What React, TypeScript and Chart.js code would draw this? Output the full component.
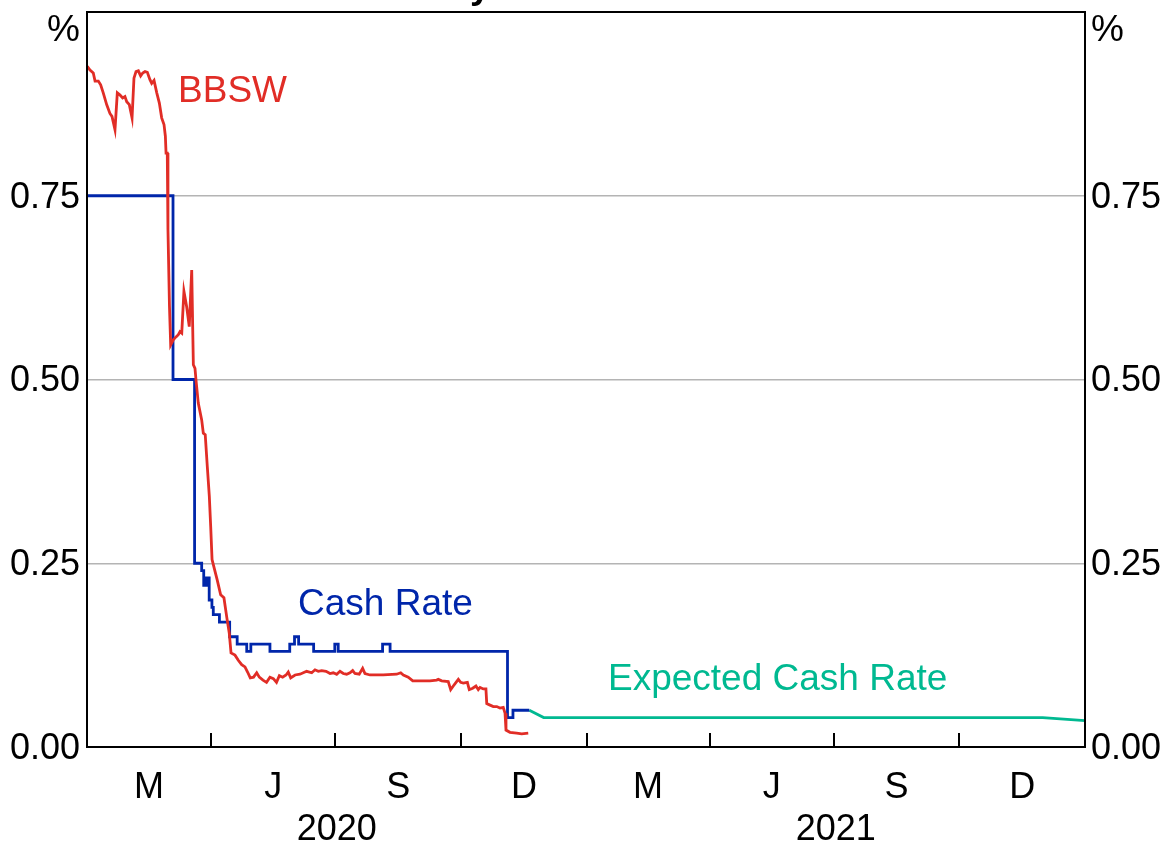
import React, { useEffect, useRef } from 'react';
import { Chart, registerables } from 'chart.js';

Chart.register(...registerables);

// x values are days since 1 January 2020
const bbswDays = [
  0.2, 2.2, 4.6, 5.9, 8.3, 10.0, 11.9, 14.4, 16.8, 18.3,
  20.5, 22.2, 24.2, 26.1, 27.8, 29.1, 31.0, 33.0, 34.4, 35.9,
  37.6, 39.3, 40.8, 42.5, 44.2, 46.1, 47.4, 49.1, 51.1, 53.0,
  54.7, 56.4, 57.4, 57.9, 58.8, 59.3, 60.4, 61.3, 63.2, 65.2,
  66.9, 68.1, 69.4, 71.0, 73.0, 74.9, 76.7, 77.9, 79.1, 79.8,
  81.5, 84.0, 85.2, 86.6, 88.1, 89.6, 90.6, 91.6, 93.5, 95.4,
  97.9, 100.3, 102.5, 104.2, 105.5, 108.4, 110.8, 113.3, 115.7, 117.6,
  119.6, 122.0, 124.3, 126.2, 128.9, 131.5, 134.0, 136.5, 138.8, 140.9,
  143.3, 145.8, 147.4, 149.2, 152.4, 156.0, 160.9, 164.6, 167.0, 169.4,
  171.9, 175.1, 178.0, 180.4, 182.9, 185.3, 187.7, 190.2, 192.6, 194.6,
  196.3, 199.4, 201.9, 203.6, 207.3, 217.0, 226.8, 229.8, 231.7, 235.3,
  238.6, 242.7, 247.6, 251.2, 256.1, 257.3, 259.8, 264.6, 266.4, 268.3,
  270.3, 272.0, 273.7, 275.6, 278.6, 280.0, 282.5, 284.9, 286.6, 287.9,
  290.3, 292.2, 292.8, 295.2, 297.6, 300.1, 302.5, 304.9, 306.2, 306.9,
  309.8, 314.7, 318.4, 323.2,
];
const bbswValues = [
  0.926, 0.921, 0.917, 0.906, 0.906, 0.901, 0.890, 0.874, 0.862, 0.858,
  0.840, 0.890, 0.887, 0.883, 0.885, 0.878, 0.874, 0.856, 0.910, 0.919,
  0.920, 0.913, 0.917, 0.919, 0.918, 0.908, 0.903, 0.907, 0.890, 0.876,
  0.856, 0.847, 0.831, 0.808, 0.808, 0.704, 0.600, 0.547, 0.554, 0.558,
  0.561, 0.565, 0.563, 0.620, 0.599, 0.572, 0.649, 0.520, 0.515, 0.500,
  0.468, 0.445, 0.427, 0.425, 0.382, 0.341, 0.300, 0.255, 0.241, 0.227,
  0.207, 0.203, 0.175, 0.155, 0.128, 0.125, 0.118, 0.112, 0.109, 0.102,
  0.094, 0.095, 0.101, 0.095, 0.091, 0.088, 0.095, 0.093, 0.088, 0.097,
  0.095, 0.098, 0.102, 0.094, 0.098, 0.099, 0.103, 0.101, 0.105, 0.103,
  0.104, 0.103, 0.100, 0.101, 0.099, 0.103, 0.100, 0.099, 0.101, 0.104,
  0.100, 0.099, 0.107, 0.100, 0.098, 0.098, 0.099, 0.101, 0.098, 0.095,
  0.090, 0.090, 0.090, 0.090, 0.091, 0.092, 0.090, 0.089, 0.078, 0.083,
  0.088, 0.092, 0.088, 0.087, 0.088, 0.078, 0.080, 0.083, 0.078, 0.081,
  0.079, 0.079, 0.059, 0.057, 0.055, 0.055, 0.053, 0.054, 0.046, 0.023,
  0.020, 0.019, 0.018, 0.019,
];

const cashDays = [
  0, 63, 78.8, 84, 85.5, 87.5, 89.5, 91.5, 92.5, 97,
  104.5, 110, 117, 120, 134, 148.5, 152, 155, 166, 181.5,
  184, 216.5, 222, 308, 312, 324,
];
const cashValues = [
  0.75, 0.50, 0.25, 0.24, 0.22, 0.23, 0.20, 0.19, 0.18, 0.17,
  0.15, 0.14, 0.13, 0.14, 0.13, 0.14, 0.15, 0.14, 0.13, 0.14,
  0.13, 0.14, 0.13, 0.04, 0.05, 0.05,
];

const expectedDays = [324, 334.5, 700, 731];
const expectedValues = [0.05, 0.04, 0.04, 0.036];

// quarter boundaries (days since 1 Jan 2020) and labels
const quarterBounds = [0, 91, 182, 274, 366, 456, 547, 639, 731];
const quarterLabels = ['M', 'J', 'S', 'D', 'M', 'J', 'S', 'D'];
const yearLabels = ['2020', '2021'];
const yearBounds = [0, 366, 731];
const yTickValues = [0, 0.25, 0.5, 0.75, 1];

const RED = '#e12d26';
const BLUE = '#0026aa';
const TEAL = '#00b991';
const FONT = "'Liberation Sans', Arial, sans-serif";
const TICK_FS = 36;
const LABEL_FS = 37;
const LW = 2.8;

const quarterMids = quarterLabels.map((_, i) => (quarterBounds[i] + quarterBounds[i + 1]) / 2);
const yearMids = yearLabels.map((_, i) => (yearBounds[i] + yearBounds[i + 1]) / 2);

const decorPlugin = {
  id: 'decor',
  afterDraw(chart: any) {
    const ctx = chart.ctx;
    const { left, right, top, bottom } = chart.chartArea;
    const xs = chart.scales.x;
    const ys = chart.scales.y;
    ctx.save();
    // frame
    ctx.strokeStyle = '#000';
    ctx.lineWidth = 2;
    ctx.strokeRect(left, top, right - left, bottom - top);
    // inner tick marks at quarter boundaries
    quarterBounds.slice(1, -1).forEach((d) => {
      const px = Math.round(xs.getPixelForValue(d));
      ctx.beginPath();
      ctx.moveTo(px, bottom);
      ctx.lineTo(px, bottom - 14);
      ctx.stroke();
    });
    // unit labels
    ctx.fillStyle = '#000';
    ctx.font = `${LABEL_FS}px ${FONT}`;
    ctx.textBaseline = 'middle';
    ctx.textAlign = 'right';
    ctx.fillText('%', left - 7, top + 19);
    ctx.textAlign = 'left';
    ctx.fillText('%', right + 6, top + 19);
    // series labels
    const lbl = (t: string, c: string, d: number, v: number) => {
      ctx.fillStyle = c;
      ctx.fillText(t, xs.getPixelForValue(d), ys.getPixelForValue(v));
    };
    lbl('BBSW', RED, 66.7, 0.892);
    lbl('Cash Rate', BLUE, 154.6, 0.193);
    lbl('Expected Cash Rate', TEAL, 381.6, 0.092);
    // title (cut off at the top of the picture)
    ctx.fillStyle = '#000';
    ctx.font = `bold ${LABEL_FS}px ${FONT}`;
    ctx.textBaseline = 'alphabetic';
    const pre = ctx.measureText('Mone').width;
    ctx.fillText('Money Market Rates', 470 - pre, -2);
    ctx.restore();
  },
};

export default function App() {
  const ref = useRef<HTMLCanvasElement>(null);
  useEffect(() => {
    document.body.style.margin = '0';
    const canvas = ref.current!;
    Chart.defaults.font.family = FONT;
    Chart.defaults.color = '#000';
    const tickFont = { size: TICK_FS, family: FONT };
    const chart = new Chart(canvas, {
      type: 'line',
      data: {
        datasets: [
          {
            label: 'BBSW',
            data: bbswDays.map((d, i) => ({ x: d, y: bbswValues[i] })),
            borderColor: RED,
            borderWidth: LW,
            pointRadius: 0,
            tension: 0,
            xAxisID: 'x',
            yAxisID: 'y',
          },
          {
            label: 'Cash Rate',
            data: cashDays.map((d, i) => ({ x: d, y: cashValues[i] })),
            borderColor: BLUE,
            borderWidth: LW,
            pointRadius: 0,
            stepped: 'before',
            xAxisID: 'x',
            yAxisID: 'y',
          },
          {
            label: 'Expected Cash Rate',
            data: expectedDays.map((d, i) => ({ x: d, y: expectedValues[i] })),
            borderColor: TEAL,
            borderWidth: LW,
            pointRadius: 0,
            tension: 0,
            xAxisID: 'x',
            yAxisID: 'y',
          },
        ],
      },
      options: {
        responsive: false,
        animation: false,
        events: [],
        layout: { padding: { top: 12, left: 0, right: 0, bottom: 0 } },
        plugins: { legend: { display: false }, tooltip: { enabled: false }, title: { display: false } },
        scales: {
          x: {
            type: 'linear',
            position: 'bottom',
            weight: 0,
            min: 0,
            max: 731,
            afterBuildTicks: (s: any) => {
              s.ticks = quarterMids.map((v) => ({ value: v }));
            },
            afterFit: (s: any) => {
              s.height = 56;
              s.paddingLeft = 0;
              s.paddingRight = 0;
            },
            ticks: {
              callback: (_v: any, i: number) => quarterLabels[i],
              padding: 19,
              maxRotation: 0,
              autoSkip: false,
              font: tickFont,
              color: '#000',
            },
            grid: { display: false, drawTicks: false },
            border: { display: false },
          },
          x2: {
            type: 'linear',
            position: 'bottom',
            weight: 1,
            min: 0,
            max: 731,
            afterBuildTicks: (s: any) => {
              s.ticks = yearMids.map((v) => ({ value: v }));
            },
            afterFit: (s: any) => {
              s.height = 40;
              s.paddingLeft = 0;
              s.paddingRight = 0;
            },
            ticks: {
              callback: (_v: any, i: number) => yearLabels[i],
              padding: 5,
              maxRotation: 0,
              autoSkip: false,
              font: tickFont,
              color: '#000',
            },
            grid: { display: false, drawTicks: false },
            border: { display: false },
          },
          y: {
            type: 'linear',
            position: 'left',
            min: 0,
            max: 1,
            afterBuildTicks: (s: any) => {
              s.ticks = yTickValues.map((v) => ({ value: v }));
            },
            afterFit: (s: any) => {
              s.width = 87;
              s.paddingTop = 0;
              s.paddingBottom = 0;
            },
            ticks: {
              callback: (v: any) => (v === 1 ? '' : Number(v).toFixed(2)),
              padding: 7,
              labelOffset: 2,
              font: tickFont,
              color: '#000',
            },
            grid: { color: '#b4b4b4', lineWidth: 1.5, drawTicks: false },
            border: { display: false },
          },
          y2: {
            type: 'linear',
            position: 'right',
            min: 0,
            max: 1,
            afterBuildTicks: (s: any) => {
              s.ticks = yTickValues.map((v) => ({ value: v }));
            },
            afterFit: (s: any) => {
              s.width = 79;
              s.paddingTop = 0;
              s.paddingBottom = 0;
            },
            ticks: {
              callback: (v: any) => (v === 1 ? '' : Number(v).toFixed(2)),
              padding: 6,
              labelOffset: 2,
              font: tickFont,
              color: '#000',
            },
            grid: { display: false, drawTicks: false },
            border: { display: false },
          },
        },
      } as any,
      plugins: [decorPlugin],
    });
    return () => chart.destroy();
  }, []);
  return <canvas ref={ref} width={1164} height={843} style={{ display: 'block' }} />;
}
